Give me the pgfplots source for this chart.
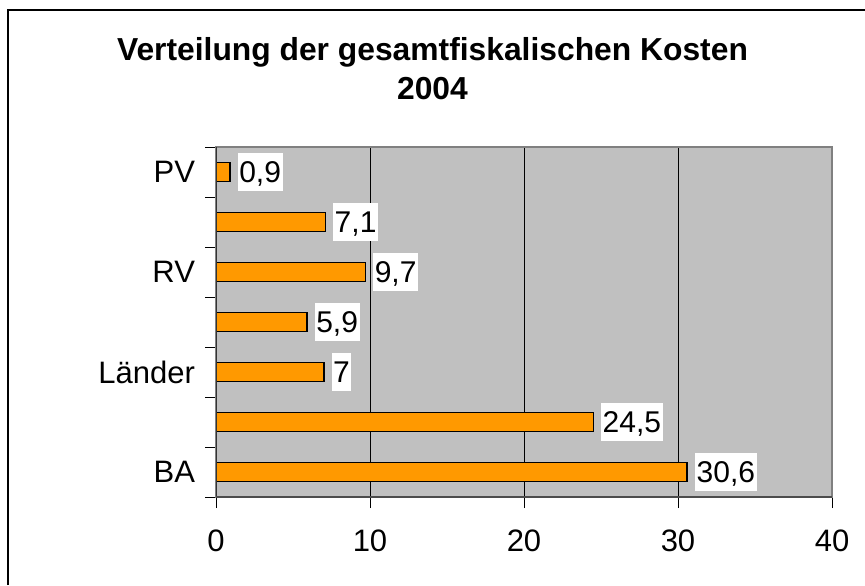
\documentclass[border=0pt]{standalone}
\usepackage{fontspec}
\setmainfont{Liberation Sans}
\usepackage{pgfplots}
\pgfplotsset{compat=1.18}
\definecolor{barorange}{HTML}{FF9900}
\definecolor{plotgray}{HTML}{C0C0C0}
\definecolor{framegray}{HTML}{808080}
\begin{document}
\begin{tikzpicture}
\useasboundingbox (-108pt,-44pt) rectangle (324.5pt,248.5pt);
\begin{axis}[
  at={(0pt,0pt)}, anchor=south west,
  scale only axis, width=308pt, height=175pt,
  xbar, bar width=9.5pt,
  xmin=0, xmax=40, ymin=-0.5, ymax=6.5,
  xtick={0,10,20,30,40},
  ytick={-0.5,0.5,1.5,2.5,3.5,4.5,5.5,6.5},
  yticklabels={},
  extra y ticks={0,2,4,6},
  extra y tick labels={BA,Länder,RV,PV},
  extra y tick style={major tick length=0pt, yticklabel style={xshift=-7pt}},
  tick align=outside, tick pos=left,
  major tick length=5.5pt,
  tick style={black, line width=0.5pt},
  xmajorgrids, grid style={black, line width=0.5pt},
  axis background/.style={fill=plotgray},
  axis line style={draw=framegray, line width=0.8pt},
  /pgf/number format/assume math mode=true,
  ticklabel style={font=\fontsize{15.5}{18}\selectfont},
  xticklabel style={yshift=-7.5pt},
  nodes near coords={\pgfmathprintnumber[use comma]{\pgfplotspointmeta}},
  nodes near coords style={font=\fontsize{15}{18}\selectfont, fill=white, inner xsep=0.8pt, inner ysep=1.2pt, text height=13.5pt, text depth=3.3pt, anchor=west, xshift=3.5pt},
]
\addplot[fill=barorange, draw=black, line width=0.8pt] coordinates {
  (30.6,0) (24.5,1) (7,2) (5.9,3) (9.7,4) (7.1,5) (0.9,6)
};
\draw[black!80, line width=0.8pt] (rel axis cs:0,0) -- (rel axis cs:0,1);
\draw[black!70, line width=0.8pt] (rel axis cs:0,0) -- (rel axis cs:1,0);
\end{axis}
\node[anchor=base, font=\fontsize{15.9}{18}\selectfont\bfseries] at (108.25pt,218.5pt) {Verteilung der gesamtfiskalischen Kosten};
\node[anchor=base, font=\fontsize{15.9}{18}\selectfont\bfseries] at (108.25pt,199pt) {2004};
\draw[black, line width=1pt] (-104pt,-44pt) -- (-104pt,243.5pt) -- (324.5pt,243.5pt);
\end{tikzpicture}
\end{document}
